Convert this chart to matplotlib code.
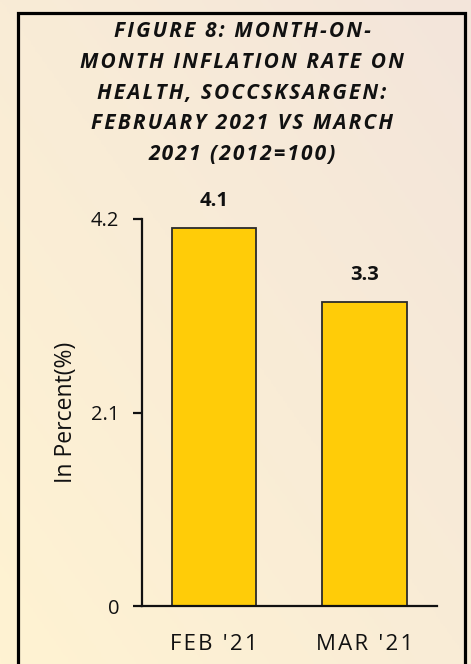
import numpy as np
import matplotlib
matplotlib.use("Agg")
import matplotlib.pyplot as plt
from matplotlib.colors import LinearSegmentedColormap
from matplotlib.patches import Rectangle

# data
months = ["FEB '21", "MAR '21"]
rates = [4.1, 3.3]
y_ticks = [0, 2.1, 4.2]
title_lines = ["FIGURE 8: MONTH-ON-", "MONTH INFLATION RATE ON", "HEALTH, SOCCSKSARGEN:",
               "FEBRUARY 2021 VS MARCH", "2021 (2012=100)"]

HAIR = "\u200a"

plt.rcParams['font.family'] = ['Open Sans', 'DejaVu Sans']

fig = plt.figure(figsize=(4.71, 6.64), dpi=100)

# soft cream gradient behind everything
bg = fig.add_axes([0, 0, 1, 1], zorder=0)
gx, gy = np.meshgrid(np.linspace(0, 1, 200), np.linspace(0, 1, 280))
grad = np.clip(0.5 * gx + 0.5 * (1 - gy), 0, 1)
cm = LinearSegmentedColormap.from_list("", ["#FFF3D2", "#F3E5DB"])
bg.imshow(grad, cmap=cm, aspect="auto", extent=[0, 1, 0, 1], origin="upper")
bg.set_axis_off()

# black frame
fig.patches.append(Rectangle((17.5 / 471, -0.05), 447 / 471, 1.05 - 13 / 664,
                             transform=fig.transFigure, fill=False,
                             edgecolor="black", linewidth=2.3, zorder=5))

ax = fig.add_axes([142 / 471, 1 - 606 / 664, 295 / 471, 387 / 664], zorder=2)
ax.set_facecolor("none")
x = np.arange(len(months))
bars = ax.bar(x, rates, width=0.56, color="#FFCC08", edgecolor="#2b2b2b", linewidth=1.3)

for xi, v in zip(x, rates):
    ax.annotate("{:.1f}".format(v), (xi, v), xytext=(0, 19.5), textcoords="offset points",
                ha="center", va="center", fontsize=14.5, fontweight="bold", color="#111111")

ax.set_xlim(-0.481, 1.483)
ax.set_ylim(0, 4.2)
ax.set_yticks(y_ticks)
ax.set_yticklabels(["0", "2.1", "4.2"])
ax.set_xticks(x)
# hair spaces stand in for the letter spacing
ax.set_xticklabels([HAIR.join(m) for m in months])
ax.tick_params(axis="y", length=6.5, width=1.6, pad=10, labelsize=14.5, colors="#111111")
ax.tick_params(axis="x", length=0, pad=20, labelsize=16, colors="#111111")
for s in ["top", "right"]:
    ax.spines[s].set_visible(False)
for s in ["left", "bottom"]:
    ax.spines[s].set_linewidth(1.6)
    ax.spines[s].set_color("#111111")
ax.set_ylabel("In Percent(%)", fontsize=16.5, color="#111111", va="center")
ax.yaxis.set_label_coords(-0.258, 0.5)

title = "\n".join(HAIR.join(l) for l in title_lines)
fig.text(242 / 471, 1 - 93 / 664, title, ha="center", va="center", fontsize=15,
         fontweight="bold", fontstyle="italic", linespacing=1.62, color="#111111")

fig.savefig("out.png", dpi=100)
